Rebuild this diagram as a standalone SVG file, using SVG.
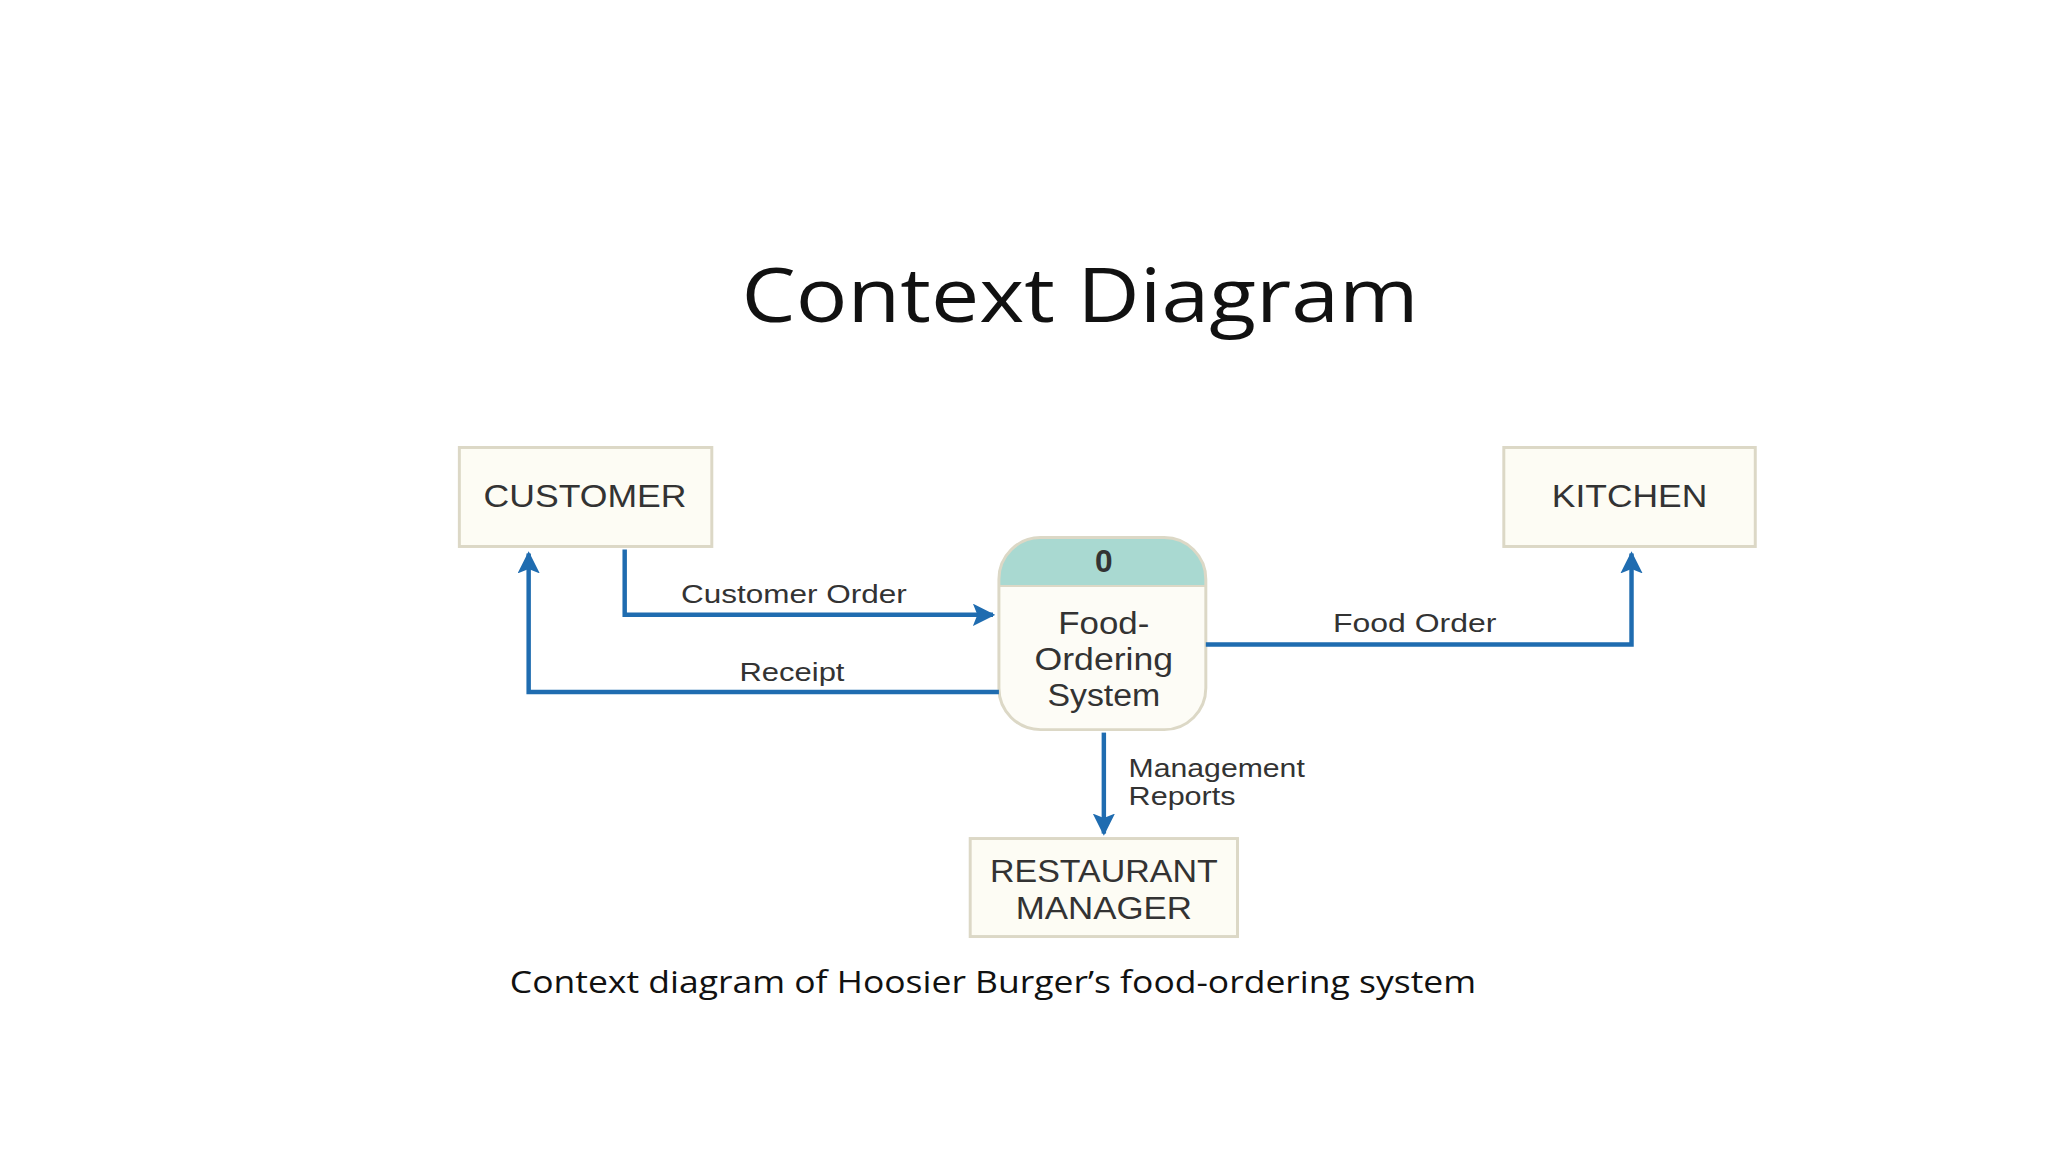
<svg xmlns="http://www.w3.org/2000/svg" width="2048" height="1152" viewBox="0 0 2048 1152">
<defs>
<style>
.box{fill:#fdfcf4;stroke:#dcd8c6;stroke-width:3}
.ent{font-family:"Liberation Sans",Arial,sans-serif;font-size:32px;fill:#333;text-anchor:middle}
.lbl{font-family:"Liberation Sans",Arial,sans-serif;font-size:26px;fill:#333}
.flow{fill:none;stroke:#1f6cb0;stroke-width:4.5}
</style>
<marker id="ah" viewBox="0 0 10 10" refX="9" refY="5" markerWidth="5" markerHeight="5" orient="auto" markerUnits="strokeWidth">
<path d="M0,0 L10,5 L0,10 L2,5 z" fill="#1f6cb0"/>
</marker>
<clipPath id="pc"><rect x="1009" y="543" width="209" height="194" rx="42"/></clipPath>
</defs>
<rect width="2048" height="1152" fill="#fff"/>
<g transform="scale(0.99)">
<text x="1091" y="325" font-family="'Open Sans',sans-serif" font-size="76" text-anchor="middle" fill="#111" textLength="684" lengthAdjust="spacingAndGlyphs">Context Diagram</text>
<g id="customer"><rect class="box" x="464" y="452" width="255" height="100"/><text class="ent" x="591" y="512" textLength="205" lengthAdjust="spacingAndGlyphs">CUSTOMER</text></g>
<g id="kitchen"><rect class="box" x="1519" y="452" width="254" height="100"/><text class="ent" x="1646" y="512" textLength="157" lengthAdjust="spacingAndGlyphs">KITCHEN</text></g>
<g id="manager"><rect class="box" x="980" y="847" width="270" height="99"/><text class="ent" x="1115" y="891" textLength="230" lengthAdjust="spacingAndGlyphs">RESTAURANT</text><text class="ent" x="1115" y="928" textLength="178" lengthAdjust="spacingAndGlyphs">MANAGER</text></g>
<g id="process">
<rect x="1009" y="543" width="209" height="194" rx="42" fill="#fdfcf6"/>
<rect x="1009" y="543" width="209" height="49" fill="#a9d9d1" clip-path="url(#pc)"/>
<rect x="1009" y="543" width="209" height="194" rx="42" fill="none" stroke="#dcd8c6" stroke-width="3"/>
<line x1="1009" y1="592" x2="1218" y2="592" stroke="#dcd8c6" stroke-width="2"/>
<text class="ent" x="1115" y="578" font-weight="bold" font-size="26">0</text>
<text class="ent" x="1115" y="640" textLength="92" lengthAdjust="spacingAndGlyphs">Food-</text>
<text class="ent" x="1115" y="677" textLength="140" lengthAdjust="spacingAndGlyphs">Ordering</text>
<text class="ent" x="1115" y="713" textLength="114" lengthAdjust="spacingAndGlyphs">System</text>
</g>
<g id="connectors">
<path class="flow" d="M631,555 V621 H1003" marker-end="url(#ah)"/>
<path class="flow" d="M1009,699 H534 V559" marker-end="url(#ah)"/>
<path class="flow" d="M1218,651 H1648 V559" marker-end="url(#ah)"/>
<path class="flow" d="M1115,740 V842" marker-end="url(#ah)"/>
<text class="lbl" x="802" y="609" text-anchor="middle" textLength="228" lengthAdjust="spacingAndGlyphs">Customer Order</text>
<text class="lbl" x="800" y="688" text-anchor="middle" textLength="106" lengthAdjust="spacingAndGlyphs">Receipt</text>
<text class="lbl" x="1429" y="638" text-anchor="middle" textLength="165" lengthAdjust="spacingAndGlyphs">Food Order</text>
<text class="lbl" x="1140" y="785" textLength="178" lengthAdjust="spacingAndGlyphs">Management</text>
<text class="lbl" x="1140" y="813" textLength="108" lengthAdjust="spacingAndGlyphs">Reports</text>
</g>
<text x="515" y="1003" font-family="'Open Sans',sans-serif" font-size="31" fill="#111" textLength="976" lengthAdjust="spacingAndGlyphs">Context diagram of Hoosier Burger’s food-ordering system</text>
</g>
</svg>
